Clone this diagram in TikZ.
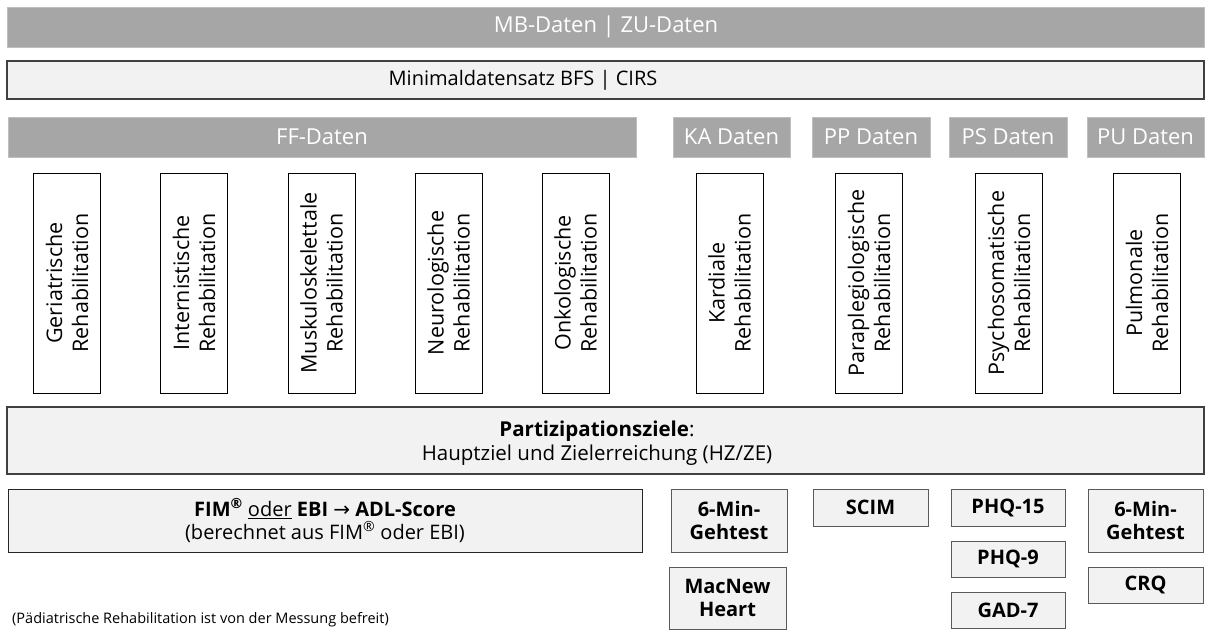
\documentclass[tikz,border=0pt]{standalone}
\usepackage{fontspec}
\setmainfont{Open Sans}
\newfontfamily\arrowfont{DejaVu Sans}
\definecolor{hdrgray}{HTML}{A6A6A6}
\definecolor{hdredge}{HTML}{BFBFBF}
\definecolor{lightfill}{HTML}{F2F2F2}
\definecolor{darkedge}{HTML}{404040}
\definecolor{midedge}{HTML}{595959}
\tikzset{
  hdr/.style={fill=hdrgray, draw=hdredge, line width=0.8pt, text=white, inner sep=0pt, outer sep=0pt,
    font=\fontsize{22}{26}\selectfont},
  bandbox/.style={fill=lightfill, draw=darkedge, line width=1.2pt, inner sep=0pt, outer sep=0pt, align=center},
  plaintext/.style={inner sep=0pt, outer sep=0pt, align=center},
  rehabox/.style={fill=white, draw=black, line width=1pt, inner sep=0pt, outer sep=0pt, rotate=90,
    minimum width=220pt, minimum height=67pt, align=center,
    font=\fontsize{21.5}{26}\selectfont},
  testbox/.style={fill=lightfill, draw=midedge, line width=1pt, inner sep=0pt, outer sep=0pt, align=center,
    font=\bfseries\fontsize{20}{23}\selectfont},
}
\begin{document}
\begin{tikzpicture}[x=1pt,y=-1pt]
\useasboundingbox (0,0) rectangle (1205,630);

% header bars
\node[hdr, minimum width=1197pt, minimum height=40pt] (mb) at (606,27) {MB-Daten | ZU-Daten};
\node[bandbox, minimum width=1197pt, minimum height=38pt] (mds) at (605.5,80) {};
\node[plaintext, font=\fontsize{20}{24}\selectfont] (mdstext) at (523,80) {Minimaldatensatz BFS | CIRS};
\node[hdr, minimum width=628pt, minimum height=40pt] (ff) at (322,137) {FF-Daten};
\node[hdr, minimum width=117pt, minimum height=40pt] (ka) at (731.5,137) {KA Daten};
\node[hdr, minimum width=118pt, minimum height=40pt] (pp) at (871,137) {PP Daten};
\node[hdr, minimum width=118pt, minimum height=40pt] (ps) at (1008,137) {PS Daten};
\node[hdr, minimum width=117pt, minimum height=40pt] (pu) at (1145.5,137) {PU Daten};

% rehabilitation boxes
\node[rehabox] (ger) at (67,283) {Geriatrische\\Rehabilitation};
\node[rehabox] (int) at (194,283) {Internistische\\Rehabilitation};
\node[rehabox] (mus) at (321.5,283) {Muskuloskelettale\\Rehabilitation};
\node[rehabox] (neu) at (448.5,283) {Neurologische\\Rehabilitation};
\node[rehabox] (onk) at (575.5,283) {Onkologische\\Rehabilitation};
\node[rehabox] (kar) at (729.5,283) {Kardiale\\Rehabilitation};
\node[rehabox] (par) at (869,283) {Paraplegiologische\\Rehabilitation};
\node[rehabox] (psy) at (1009,283) {Psychosomatische\\Rehabilitation};
\node[rehabox] (pul) at (1147,283) {Pulmonale\\Rehabilitation};

% participation
\node[bandbox, minimum width=1197pt, minimum height=67pt] (hz) at (605.5,440.5) {};
\node[plaintext, font=\fontsize{20.5}{24}\selectfont] (hztext) at (597,443)
  {\textbf{Partizipationsziele}:\\Hauptziel und Zielerreichung (HZ/ZE)};

% FIM / EBI
\node[bandbox, draw=black!85, line width=1pt, minimum width=634pt, minimum height=63pt, font=\fontsize{20}{23}\selectfont] (fim) at (325,520.5)
  {\textbf{FIM\textsuperscript{®}} \underline{oder} \textbf{EBI} {\arrowfont →} \textbf{ADL-Score}\\(berechnet aus FIM\textsuperscript{®} oder EBI)};

% tests
\node[testbox, minimum width=116pt, minimum height=63pt] (gk) at (729,520.5) {6-Min-\\Gehtest};
\node[testbox, minimum width=117pt, minimum height=62pt] (mac) at (727.5,598) {MacNew\\Heart};
\node[testbox, minimum width=115pt, minimum height=37pt] (scim) at (870.5,507.5) {SCIM};
\node[testbox, minimum width=114pt, minimum height=37pt] (phqa) at (1008,507.5) {PHQ-15};
\node[testbox, minimum width=114pt, minimum height=36pt] (phqb) at (1008,559) {PHQ-9};
\node[testbox, minimum width=114pt, minimum height=36pt] (gad) at (1008,610) {GAD-7};
\node[testbox, minimum width=115pt, minimum height=63pt] (gp) at (1145.5,520.5) {6-Min-\\Gehtest};
\node[testbox, minimum width=115pt, minimum height=36pt] (crq) at (1145.5,585) {CRQ};

% footnote
\node[anchor=west, inner sep=0pt, font=\fontsize{14.5}{17}\selectfont] (note) at (12,620)
  {(Pädiatrische Rehabilitation ist von der Messung befreit)};
\end{tikzpicture}
\end{document}
